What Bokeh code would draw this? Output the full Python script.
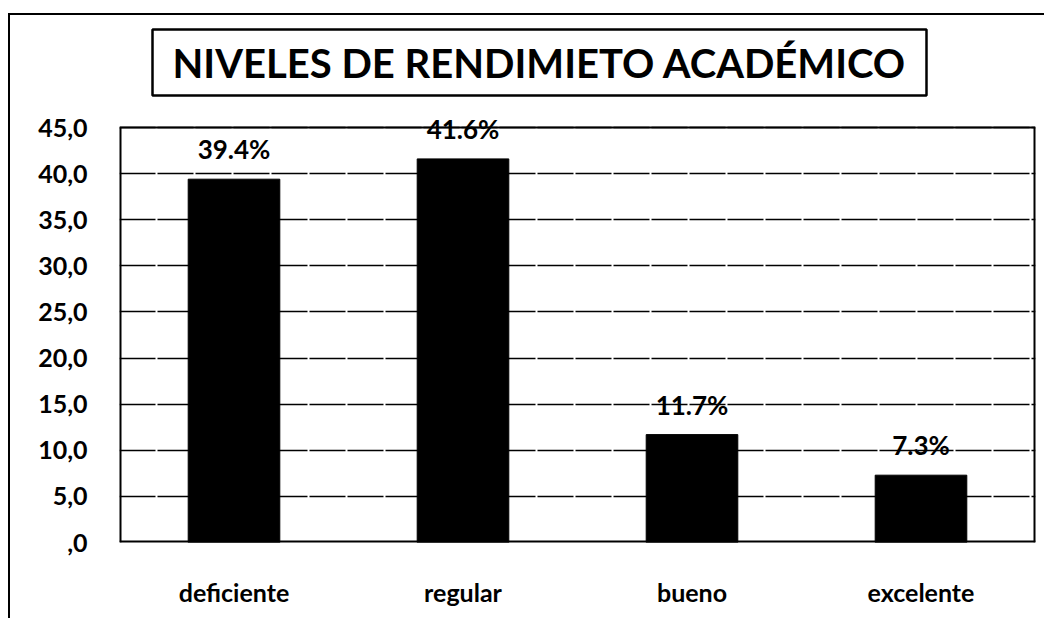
from bokeh.plotting import figure
from bokeh.models import ColumnDataSource, FactorRange, Range1d, FixedTicker, LabelSet, Label
from bokeh.embed import file_html
from bokeh.resources import INLINE
from bokeh.core.properties import value

# ---- data ----
categories = ["deficiente", "regular", "bueno", "excelente"]
percentages = [39.4, 41.6, 11.7, 7.3]
pct_labels = ["39.4%", "41.6%", "11.7%", "7.3%"]
y_ticks = [0, 5, 10, 15, 20, 25, 30, 35, 40, 45]
y_tick_labels = [",0", "5,0", "10,0", "15,0", "20,0", "25,0", "30,0", "35,0", "40,0", "45,0"]
title_text = "NIVELES DE RENDIMIETO ACADÉMICO"

FONT = "Lato"
Y_MAX_AXIS = 45
# the frame is extended above the 45 line so the title and the top label are not clipped
FRAME_TOP = 57.15
N = len(categories)

src = ColumnDataSource(dict(cat=categories, val=percentages, lab=pct_labels))

p = figure(
    x_range=FactorRange(*categories),
    y_range=Range1d(0, FRAME_TOP),
    width=1036, height=605,
    output_backend="svg", toolbar_location=None,
    min_border_left=109, min_border_top=0, min_border_right=11, min_border_bottom=78,
    styles={"border-left": "2px solid black", "border-top": "2px solid black",
            "margin-top": "13px", "margin-left": "8px"},
)
p.outline_line_color = None

p.xgrid.grid_line_color = None
p.ygrid.grid_line_color = "black"
p.ygrid.grid_line_width = 1.3
p.ygrid.grid_line_dash = "36 2"
p.yaxis.ticker = FixedTicker(ticks=y_ticks)
p.yaxis.major_label_overrides = {t_: l_ for t_, l_ in zip(y_ticks, y_tick_labels)}

# plot-area border (0..45): sides on the frame edge are half clipped, so drawn wider
p.multi_line(xs=[[0, 0], [N, N], [0, N]], ys=[[0, Y_MAX_AXIS], [0, Y_MAX_AXIS], [0, 0]],
             line_color="black", line_width=4)
p.line(x=[0, N], y=[Y_MAX_AXIS, Y_MAX_AXIS], line_color="black", line_width=2)

p.vbar(x="cat", top="val", width=0.4, source=src, fill_color="black", line_color="black")

labels = LabelSet(x="cat", y="val", text="lab", source=src, y_offset=20,
                  text_align="center", text_baseline="alphabetic",
                  text_font=value(FONT), text_font_style="bold", text_font_size="26px",
                  text_color="black")
p.add_layout(labels)

# title box
t = Label(x=420, y=480, x_units="screen", y_units="screen", text=title_text,
          text_align="center", text_baseline="middle",
          text_font=FONT, text_font_style="bold", text_font_size="40px",
          text_color="black", border_line_color="black", border_line_width=2.5,
          background_fill_color="white",
          padding=dict(left=20, right=20, top=9, bottom=9))
p.add_layout(t)

for ax in (p.xaxis, p.yaxis):
    ax.axis_line_color = None
    ax.major_tick_line_color = None
    ax.minor_tick_line_color = None
    ax.major_label_text_font = FONT
    ax.major_label_text_font_style = "bold"
    ax.major_label_text_font_size = "25px"
    ax.major_label_text_color = "black"

p.yaxis.major_label_standoff = 26
p.xaxis.major_label_standoff = 28

open("out.html", "w").write(file_html(p, INLINE))
